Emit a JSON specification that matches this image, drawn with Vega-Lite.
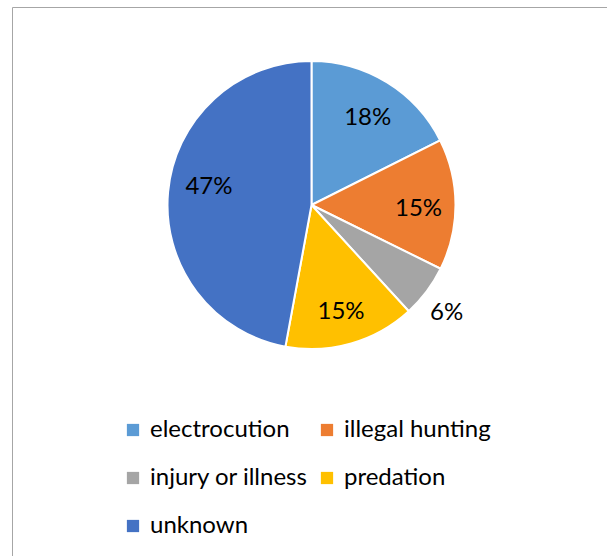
{
  "$schema": "https://vega.github.io/schema/vega-lite/v6.json",
  "width": 599,
  "height": 552,
  "autosize": {"type": "none"},
  "padding": {"left": 12, "top": 7, "right": -4, "bottom": -3},
  "background": "white",
  "view": {"stroke": "#a6a6a6", "strokeWidth": 1, "fill": "white"},
  "config": {"font": "Lato"},
  "data": {
    "values": [
      {"cause": "electrocution", "share": 0.176},
      {"cause": "illegal hunting", "share": 0.147},
      {"cause": "injury or illness", "share": 0.059},
      {"cause": "predation", "share": 0.147},
      {"cause": "unknown", "share": 0.471}
    ]
  },
  "encoding": {
    "theta": {"field": "share", "type": "quantitative", "stack": true},
    "order": {"field": "cause", "sort": "ascending"}
  },
  "layer": [
    {
      "mark": {
        "type": "arc",
        "outerRadius": 144,
        "stroke": "white",
        "strokeWidth": 2,
        "y": {"expr": "height * 0.3587"}
      },
      "encoding": {
        "color": {
          "field": "cause",
          "type": "nominal",
          "scale": {
            "domain": ["electrocution", "illegal hunting", "injury or illness", "predation", "unknown"],
            "range": ["#5B9BD5", "#ED7D31", "#A5A5A5", "#FFC000", "#4472C4"]
          },
          "legend": {
            "title": null,
            "orient": "none",
            "legendX": 109,
            "legendY": 411,
            "columns": 2,
            "direction": "horizontal",
            "symbolType": "square",
            "symbolSize": 150,
            "symbolStrokeWidth": 0,
            "labelFont": "Lato",
            "labelFontSize": 24,
            "labelColor": "#000000",
            "labelOffset": 5,
            "columnPadding": 7,
            "rowPadding": 24,
            "padding": 0,
            "labelLimit": 300
          }
        }
      }
    },
    {
      "mark": {
        "type": "text",
        "radius": 107,
        "dy": 4,
        "font": "Lato",
        "fontSize": 24,
        "fill": "#000000",
        "y": {"expr": "height * 0.3587"}
      },
      "encoding": {
        "text": {
          "field": "share",
          "type": "quantitative",
          "format": ".0%",
          "condition": {"test": "datum.cause === 'injury or illness' || datum.cause === 'unknown'", "value": ""}
        }
      }
    },
    {
      "mark": {
        "type": "text",
        "radius": 103,
        "dy": -9,
        "font": "Lato",
        "fontSize": 24,
        "fill": "#000000",
        "y": {"expr": "height * 0.3587"}
      },
      "encoding": {
        "text": {
          "field": "share",
          "type": "quantitative",
          "format": ".0%",
          "condition": {"test": "datum.cause !== 'unknown'", "value": ""}
        }
      }
    },
    {
      "mark": {
        "type": "text",
        "radius": 169,
        "dy": 7,
        "font": "Lato",
        "fontSize": 24,
        "fill": "#000000",
        "y": {"expr": "height * 0.3587"}
      },
      "encoding": {
        "text": {
          "field": "share",
          "type": "quantitative",
          "format": ".0%",
          "condition": {"test": "datum.cause !== 'injury or illness'", "value": ""}
        }
      }
    }
  ]
}
